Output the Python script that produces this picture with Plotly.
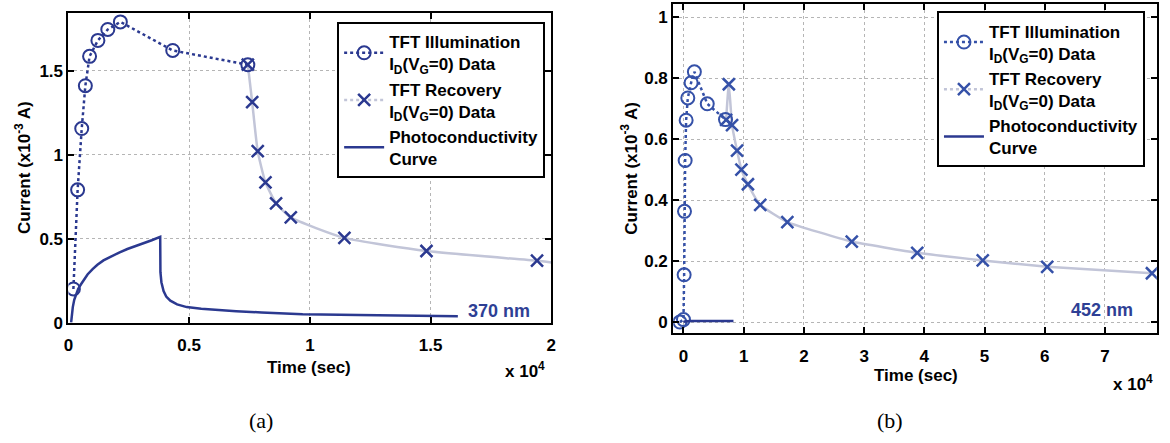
import plotly.graph_objects as go

# ---- Panel (a): 370 nm illumination (time in units of 1e4 s, current in 1e-3 A)
a_illum_t = [0.0205, 0.038, 0.055, 0.070, 0.0875, 0.122, 0.163, 0.215, 0.432, 0.743]
a_illum_i = [0.20, 0.79, 1.155, 1.41, 1.585, 1.68, 1.745, 1.79, 1.62, 1.535]

a_recov_t = [0.743, 0.761, 0.784, 0.816, 0.860, 0.921, 1.143, 1.483, 1.941]
a_recov_i = [1.535, 1.313, 1.02, 0.835, 0.71, 0.626, 0.504, 0.426, 0.368]
# recovery trend line continues to the edge of the time window
a_recov_line_t = a_recov_t + [2.0]
a_recov_line_i = a_recov_i + [0.358]

a_photo_t = [0.011, 0.014, 0.018, 0.024, 0.031, 0.040, 0.052, 0.065, 0.079, 0.100,
             0.120, 0.145, 0.175, 0.210, 0.244, 0.280, 0.312, 0.345, 0.380, 0.381,
             0.385, 0.394, 0.405, 0.422, 0.450, 0.490, 0.550, 0.620, 0.695, 0.800,
             0.970, 1.200, 1.400, 1.613]
a_photo_i = [0.0, 0.05, 0.092, 0.135, 0.169, 0.200, 0.228, 0.258, 0.286, 0.318,
             0.344, 0.370, 0.393, 0.417, 0.438, 0.456, 0.471, 0.490, 0.510, 0.30,
             0.24, 0.188, 0.155, 0.13, 0.108, 0.092, 0.082, 0.074, 0.068, 0.060,
             0.050, 0.045, 0.040, 0.037]

# ---- Panel (b): 452 nm illumination
b_illum_t = [-0.06, 0.0, 0.011, 0.017, 0.028, 0.044, 0.072, 0.127, 0.181, 0.395, 0.698]
b_illum_i = [0.0, 0.008, 0.155, 0.363, 0.53, 0.662, 0.735, 0.785, 0.821, 0.716, 0.664]

b_recov_t = [0.708, 0.753, 0.807, 0.890, 0.962, 1.070, 1.275, 1.725, 2.795, 3.882, 4.970, 6.040, 7.780]
b_recov_i = [0.663, 0.780, 0.646, 0.562, 0.500, 0.452, 0.384, 0.328, 0.264, 0.227, 0.202, 0.181, 0.160]

b_photo_t = [0.0, 0.02, 0.10, 0.30, 0.50, 0.70, 0.83]
b_photo_i = [0.0, 0.002, 0.003, 0.003, 0.003, 0.003, 0.003]

a_xticks = [0, 0.5, 1, 1.5, 2]
a_xlabels = ["0", "0.5", "1", "1.5", "2"]
a_yticks = [0, 0.5, 1, 1.5]
a_ylabels = ["0", "0.5", "1", "1.5"]
b_xticks = [0, 1, 2, 3, 4, 5, 6, 7]
b_xlabels = ["0", "1", "2", "3", "4", "5", "6", "7"]
b_yticks = [0, 0.2, 0.4, 0.6, 0.8, 1.0]
b_ylabels = ["0", "0.2", "0.4", "0.6", "0.8", "1"]

NAME_ILLUM = "TFT Illumination<br>I<sub>D</sub>(V<sub>G</sub>=0) Data"
NAME_RECOV = "TFT Recovery<br>I<sub>D</sub>(V<sub>G</sub>=0) Data"
NAME_PHOTO = "Photoconductivity<br>Curve"

NAVY = "#2b3990"
BLUE_B = "#3551a8"
GREY_LINE = "#c2c5d8"
FONT = "Liberation Sans, Arial, Helvetica, sans-serif"
SERIF = "Liberation Serif, DejaVu Serif, Times New Roman, serif"

fig = go.Figure()

# panel (a) traces
fig.add_trace(go.Scatter(
    x=a_recov_line_t, y=a_recov_line_i, mode="lines", showlegend=False,
    line=dict(color=GREY_LINE, width=2.5, shape="spline", smoothing=0.5),
    xaxis="x", yaxis="y", hoverinfo="skip"))
fig.add_trace(go.Scatter(
    x=a_illum_t, y=a_illum_i, mode="lines+markers", name=NAME_ILLUM,
    line=dict(color=NAVY, width=2.5, dash="dot"),
    marker=dict(symbol="circle-open", size=13, color=NAVY, line=dict(width=2, color=NAVY)),
    xaxis="x", yaxis="y", legend="legend", legendgroup="a1"))
fig.add_trace(go.Scatter(
    x=a_recov_t, y=a_recov_i, mode="markers", name=NAME_RECOV,
    marker=dict(symbol="x-thin", size=12, color=NAVY, line=dict(width=2.5, color=NAVY)),
    xaxis="x", yaxis="y", legend="legend", legendgroup="a2", showlegend=False))
# legend entry for recovery (line + marker sample)
fig.add_trace(go.Scatter(
    x=[None], y=[None], mode="lines+markers", name=NAME_RECOV,
    line=dict(color=GREY_LINE, width=2.5, dash="dot"),
    marker=dict(symbol="x-thin", size=12, color=NAVY, line=dict(width=2.5, color=NAVY)),
    xaxis="x", yaxis="y", legend="legend", legendgroup="a2"))
fig.add_trace(go.Scatter(
    x=a_photo_t, y=a_photo_i, mode="lines", name=NAME_PHOTO,
    line=dict(color=NAVY, width=2.5),
    xaxis="x", yaxis="y", legend="legend", legendgroup="a3"))

# panel (b) traces
fig.add_trace(go.Scatter(
    x=b_recov_t, y=b_recov_i, mode="lines", showlegend=False,
    line=dict(color=GREY_LINE, width=2.5, shape="spline", smoothing=0.4),
    xaxis="x2", yaxis="y2", hoverinfo="skip"))
fig.add_trace(go.Scatter(
    x=b_illum_t, y=b_illum_i, mode="lines+markers", name=NAME_ILLUM,
    line=dict(color=BLUE_B, width=2.5, dash="dot"),
    marker=dict(symbol="circle-open", size=13, color=BLUE_B, line=dict(width=2, color=BLUE_B)),
    xaxis="x2", yaxis="y2", legend="legend2", legendgroup="b1"))
fig.add_trace(go.Scatter(
    x=b_recov_t, y=b_recov_i, mode="markers", name=NAME_RECOV, showlegend=False,
    marker=dict(symbol="x-thin", size=12, color=BLUE_B, line=dict(width=2.5, color=BLUE_B)),
    xaxis="x2", yaxis="y2", legend="legend2", legendgroup="b2"))
fig.add_trace(go.Scatter(
    x=[None], y=[None], mode="lines+markers", name=NAME_RECOV,
    line=dict(color=GREY_LINE, width=2.5, dash="dot"),
    marker=dict(symbol="x-thin", size=12, color=BLUE_B, line=dict(width=2.5, color=BLUE_B)),
    xaxis="x2", yaxis="y2", legend="legend2", legendgroup="b2"))
fig.add_trace(go.Scatter(
    x=b_photo_t, y=b_photo_i, mode="lines", name=NAME_PHOTO,
    line=dict(color=NAVY, width=2.5),
    xaxis="x2", yaxis="y2", legend="legend2", legendgroup="b3"))

axis_common = dict(
    showline=True, linecolor="black", linewidth=2, mirror="ticks",
    ticks="inside", ticklen=6, tickwidth=2, tickcolor="black",
    showgrid=True, gridcolor="#b5b5b5", gridwidth=1, griddash="dot",
    zeroline=False, tickfont=dict(family=FONT, size=17, color="black", weight="bold"),
)

W, H = 1170, 443


def px_x(p):
    return p / W


def px_y(p):
    return 1 - p / H


legend_common = dict(
    bgcolor="white", bordercolor="black", borderwidth=2,
    font=dict(family=FONT, size=17, color="black", weight="bold"),
    tracegroupgap=0, xanchor="left", yanchor="top", itemwidth=40,
)

fig.update_layout(
    width=W, height=H, margin=dict(l=0, r=0, t=0, b=0),
    paper_bgcolor="white", plot_bgcolor="white",
    font=dict(family=FONT, color="black", weight="bold"),
    xaxis=dict(domain=[px_x(64), px_x(551)], range=[0, 2], anchor="y",
               tickvals=a_xticks, ticktext=a_xlabels, ticklabelstandoff=6, **axis_common),
    yaxis=dict(domain=[px_y(330), px_y(13.3)], range=[0, 1.843], anchor="x",
               tickvals=a_yticks, ticktext=a_ylabels, **axis_common),
    xaxis2=dict(domain=[px_x(674), px_x(1161.7)], range=[-0.17, 7.86], anchor="y2",
                tickvals=b_xticks, ticktext=b_xlabels, ticklabelstandoff=6, **axis_common),
    yaxis2=dict(domain=[px_y(341), px_y(4.5)], range=[-0.037, 1.042], anchor="x2",
                tickvals=b_yticks, ticktext=b_ylabels, **axis_common),
    legend=dict(x=px_x(335), y=px_y(22.7), **legend_common),
    legend2=dict(x=px_x(940), y=px_y(11.7), **legend_common),
    showlegend=True,
)

ann_font = dict(family=FONT, size=17, color="black", weight="bold")
label_font = dict(family=FONT, size=18, color="#2e3f95", weight="bold")
cap_font = dict(family=SERIF, size=22, color="black", weight="normal")


def paper_text(text, x, y, font, xanchor="center", **kw):
    return dict(text=text, x=px_x(x), y=px_y(y), xref="paper", yref="paper",
                xanchor=xanchor, yanchor="middle", showarrow=False, font=font, **kw)


annotations = [
    paper_text("Time (sec)", 307, 376, ann_font),
    paper_text("x 10<sup>4</sup>", 547, 379, ann_font, xanchor="right"),
    paper_text("Time (sec)", 919, 384, ann_font),
    paper_text("x 10<sup>4</sup>", 1160, 392, ann_font, xanchor="right"),
    paper_text("Current (x10<sup>-3</sup> A)", 18, 171, ann_font, textangle=-90),
    paper_text("Current (x10<sup>-3</sup> A)", 630, 172, ann_font, textangle=-90),
    dict(text="370 nm", x=1.647, y=0.07, xref="x", yref="y", xanchor="left",
         yanchor="middle", showarrow=False, font=label_font),
    dict(text="452 nm", x=6.40, y=0.04, xref="x2", yref="y2", xanchor="left",
         yanchor="middle", showarrow=False, font=label_font),
    paper_text("(a)", 258, 430, cap_font),
    paper_text("(b)", 893, 430, cap_font),
]
fig.update_layout(annotations=annotations)

fig.write_html("out.html")
